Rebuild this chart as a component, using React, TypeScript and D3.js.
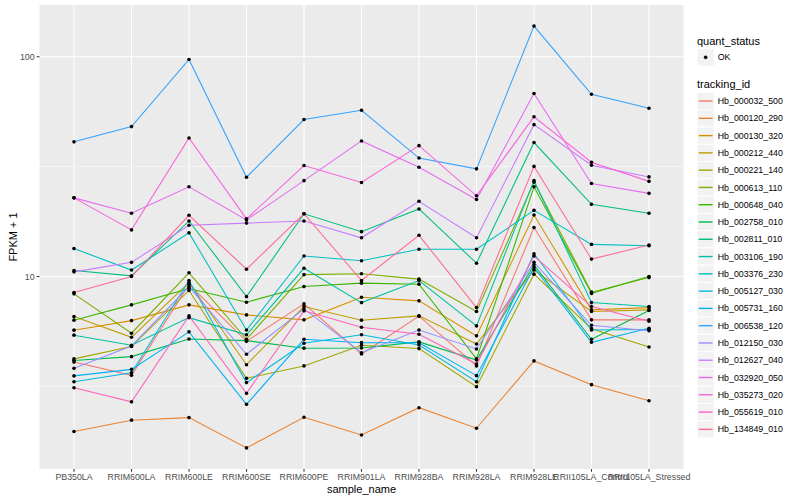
import React from "react";
import * as d3 from "d3";

const samples = [
  "PB350LA",
  "RRIM600LA",
  "RRIM600LE",
  "RRIM600SE",
  "RRIM600PE",
  "RRIM901LA",
  "RRIM928BA",
  "RRIM928LA",
  "RRIM928LE",
  "RRII105LA_Control",
  "RRII105LA_Stressed",
];

const trackingIds = [
  "Hb_000032_500",
  "Hb_000120_290",
  "Hb_000130_320",
  "Hb_000212_440",
  "Hb_000221_140",
  "Hb_000613_110",
  "Hb_000648_040",
  "Hb_002758_010",
  "Hb_002811_010",
  "Hb_003106_190",
  "Hb_003376_230",
  "Hb_005127_030",
  "Hb_005731_160",
  "Hb_006538_120",
  "Hb_012150_030",
  "Hb_012627_040",
  "Hb_032920_050",
  "Hb_035273_020",
  "Hb_055619_010",
  "Hb_134849_010",
];

// FPKM + 1 per sample (same order as samples)
const hb_000032_500 = [4.08, 3.55, 9.21, 5.07, 7.51, 4.44, 6.6, 3.92, 16.7, 6.35, 6.35];
const hb_000120_290 = [1.97, 2.22, 2.28, 1.66, 2.29, 1.9, 2.53, 2.04, 4.13, 3.22, 2.72];
const hb_000130_320 = [5.7, 6.3, 7.43, 6.69, 6.35, 8.05, 7.75, 5.37, 19.05, 7.05, 7.22];
const hb_000212_440 = [6.57, 5.29, 9.39, 3.97, 7.3, 6.33, 6.62, 4.93, 10.7, 6.93, 7.05];
const hb_000221_140 = [4.22, 4.8, 8.64, 3.44, 3.92, 4.87, 4.7, 3.15, 10.25, 5.79, 4.78];
const hb_000613_110 = [8.34, 5.52, 10.4, 5.18, 10.2, 10.3, 9.73, 6.93, 26.9, 8.49, 9.89];
const hb_000648_040 = [6.33, 7.43, 8.82, 7.64, 9.0, 9.33, 9.23, 4.22, 25.6, 8.38, 10.0];
const hb_002758_010 = [4.15, 4.32, 5.2, 5.11, 4.72, 4.73, 5.04, 4.17, 11.3, 5.18, 7.01];
const hb_002811_010 = [10.65, 10.07, 17.9, 8.1, 19.3, 16.0, 20.3, 11.5, 40.7, 21.3, 19.4];
const hb_003106_190 = [5.41, 4.87, 6.5, 5.43, 10.9, 7.61, 9.59, 5.96, 27.3, 7.61, 7.3];
const hb_003376_230 = [13.4, 10.7, 15.8, 5.71, 12.4, 11.8, 13.3, 13.3, 20.0, 14.0, 13.8];
const hb_005127_030 = [3.32, 3.65, 9.59, 3.29, 4.97, 5.43, 4.88, 3.32, 12.7, 5.71, 5.74];
const hb_005731_160 = [3.53, 3.78, 5.6, 2.62, 5.18, 5.0, 5.0, 3.54, 11.0, 5.02, 5.82];
const hb_006538_120 = [41.0, 48.1, 97.2, 28.3, 51.8, 57.1, 34.6, 30.9, 137.9, 67.5, 58.3];
const hb_012150_030 = [3.82, 4.83, 9.0, 4.43, 7.13, 4.5, 5.71, 4.68, 11.6, 6.0, 5.67];
const hb_012627_040 = [10.5, 11.6, 17.1, 17.5, 17.9, 15.0, 22.0, 15.0, 49.1, 32.1, 28.4];
const hb_032920_050 = [22.8, 19.4, 25.6, 18.1, 27.3, 41.4, 31.4, 22.4, 68.0, 26.5, 23.9];
const hb_035273_020 = [22.8, 16.3, 42.7, 18.3, 32.0, 26.8, 39.4, 23.3, 53.3, 33.1, 27.1];
const hb_055619_010 = [3.12, 2.69, 6.62, 2.94, 6.98, 5.88, 5.46, 4.0, 12.4, 7.3, 6.26];
const hb_134849_010 = [8.45, 10.0, 19.0, 10.8, 19.3, 9.59, 15.4, 7.22, 31.7, 12.0, 13.9];

const seriesValues = [
  hb_000032_500, hb_000120_290, hb_000130_320, hb_000212_440, hb_000221_140,
  hb_000613_110, hb_000648_040, hb_002758_010, hb_002811_010, hb_003106_190,
  hb_003376_230, hb_005127_030, hb_005731_160, hb_006538_120, hb_012150_030,
  hb_012627_040, hb_032920_050, hb_035273_020, hb_055619_010, hb_134849_010,
];

const yMajor = [10, 100];
const yMinor = [Math.pow(10, 0.5), Math.pow(10, 1.5)];

// ggplot default hue palette, 20 levels
const palette = [
  "#F8766D", "#EA8331", "#D89000", "#C09B00", "#A3A500",
  "#7CAE00", "#39B600", "#00BB4E", "#00BF7D", "#00C1A3",
  "#00BFC4", "#00BAE0", "#00B0F6", "#35A2FF", "#9590FF",
  "#C77CFF", "#E76BF3", "#FA62DB", "#FF62BC", "#FF6C91",
];

const W = 800;
const H = 500;
const panel = { left: 39.5, right: 683.5, top: 5, bottom: 469 };
const font = "'Liberation Sans', Arial, Helvetica, sans-serif";

export default function App() {
  const all = seriesValues.flat();
  const lo = Math.log10(d3.min(all) as number);
  const hi = Math.log10(d3.max(all) as number);
  const pad = (hi - lo) * 0.05;

  const y = d3
    .scaleLog()
    .domain([Math.pow(10, lo - pad), Math.pow(10, hi + pad)])
    .range([panel.bottom, panel.top]);

  const x = d3
    .scalePoint()
    .domain(samples)
    .range([panel.left, panel.right])
    .padding(0.6);

  const line = d3
    .line<number>()
    .x((_, i) => x(samples[i]) as number)
    .y((d) => y(d));

  const keyH = 17.28;
  const legendX = 697;
  const idKeyTop = 92.4;

  return (
    <svg
      width={W}
      height={H}
      style={{ position: "absolute", left: 0, top: 0, background: "#fff" }}
      fontFamily={font}
    >
      <rect x={0} y={0} width={W} height={H} fill="#fff" />
      {/* panel */}
      <rect
        x={panel.left}
        y={panel.top}
        width={panel.right - panel.left}
        height={panel.bottom - panel.top}
        fill="#EBEBEB"
      />
      {yMinor.map((v) => (
        <line
          key={"mn" + v}
          x1={panel.left}
          x2={panel.right}
          y1={y(v)}
          y2={y(v)}
          stroke="#fff"
          strokeWidth={0.53}
        />
      ))}
      {yMajor.map((v) => (
        <line
          key={"mj" + v}
          x1={panel.left}
          x2={panel.right}
          y1={y(v)}
          y2={y(v)}
          stroke="#fff"
          strokeWidth={1.07}
        />
      ))}
      {samples.map((s) => (
        <line
          key={"vx" + s}
          x1={x(s)}
          x2={x(s)}
          y1={panel.top}
          y2={panel.bottom}
          stroke="#fff"
          strokeWidth={1.07}
        />
      ))}

      {/* lines */}
      {seriesValues.map((vals, i) => (
        <path
          key={"l" + i}
          d={line(vals) as string}
          fill="none"
          stroke={palette[i]}
          strokeWidth={1.07}
        />
      ))}
      {/* points */}
      {seriesValues.map((vals, i) =>
        vals.map((v, j) => (
          <circle
            key={"p" + i + "-" + j}
            cx={x(samples[j])}
            cy={y(v)}
            r={1.8}
            fill="#000"
          />
        ))
      )}

      {/* y axis */}
      {yMajor.map((v) => (
        <g key={"yt" + v}>
          <line
            x1={panel.left - 2.75}
            x2={panel.left}
            y1={y(v)}
            y2={y(v)}
            stroke="#333"
            strokeWidth={1.07}
          />
          <text
            x={panel.left - 4.9}
            y={y(v)}
            dy="0.35em"
            textAnchor="end"
            fontSize={8.8}
            fill="#4D4D4D"
          >
            {v}
          </text>
        </g>
      ))}
      <text
        transform={`translate(13.5,${(panel.top + panel.bottom) / 2}) rotate(-90)`}
        textAnchor="middle"
        dy="0.35em"
        fontSize={11}
        fill="#000"
      >
        FPKM + 1
      </text>

      {/* x axis */}
      {samples.map((s) => (
        <g key={"xt" + s}>
          <line
            x1={x(s)}
            x2={x(s)}
            y1={panel.bottom}
            y2={panel.bottom + 2.75}
            stroke="#333"
            strokeWidth={1.07}
          />
          <text
            x={x(s)}
            y={panel.bottom + 11}
            textAnchor="middle"
            fontSize={8.8}
            fill="#4D4D4D"
          >
            {s}
          </text>
        </g>
      ))}
      <text
        x={(panel.left + panel.right) / 2}
        y={492.5}
        textAnchor="middle"
        fontSize={11}
        fill="#000"
      >
        sample_name
      </text>

      {/* legend: quant_status */}
      <text x={legendX} y={44.5} fontSize={11} fill="#000">
        quant_status
      </text>
      <rect
        x={legendX}
        y={48.7}
        width={keyH}
        height={keyH}
        fill="#F2F2F2"
        stroke="#fff"
        strokeWidth={1}
      />
      <circle cx={legendX + keyH / 2} cy={48.7 + keyH / 2} r={1.8} fill="#000" />
      <text x={legendX + keyH + 3.5} y={48.7 + keyH / 2} dy="0.35em" fontSize={8.8} fill="#000">
        OK
      </text>

      {/* legend: tracking_id */}
      <text x={legendX} y={88} fontSize={11} fill="#000">
        tracking_id
      </text>
      {trackingIds.map((id, i) => {
        const top = idKeyTop + i * keyH;
        return (
          <g key={"lg" + id}>
            <rect
              x={legendX}
              y={top}
              width={keyH}
              height={keyH}
              fill="#F2F2F2"
              stroke="#fff"
              strokeWidth={1}
            />
            <line
              x1={legendX + 1.7}
              x2={legendX + keyH - 1.7}
              y1={top + keyH / 2}
              y2={top + keyH / 2}
              stroke={palette[i]}
              strokeWidth={1.4}
            />
            <text
              x={legendX + keyH + 3.5}
              y={top + keyH / 2}
              dy="0.35em"
              fontSize={8.8}
              fill="#000"
            >
              {id}
            </text>
          </g>
        );
      })}
    </svg>
  );
}
